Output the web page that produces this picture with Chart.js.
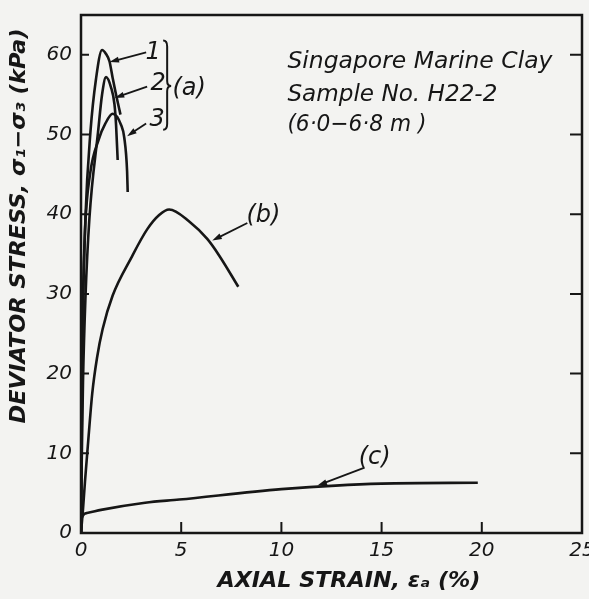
<!DOCTYPE html>
<html>
<head>
<meta charset="utf-8">
<title>Singapore Marine Clay - deviator stress vs axial strain</title>
<script src="https://cdn.jsdelivr.net/npm/chart.js@4.4.0/dist/chart.umd.min.js"></script>
<style>
  html, body { margin: 0; padding: 0; background: #f3f3f1; }
  #wrap { width: 589px; height: 599px; }
</style>
</head>
<body>
<div id="wrap"><canvas id="myChart" width="589" height="599"></canvas></div>
<script>
// values: axial strain (%) / deviator stress (kPa)
const strainA1 = [0, 0.02, 0.05, 0.1, 0.22, 0.47, 0.75, 1.05, 1.25, 1.42, 1.58, 1.75, 1.97];
const stressA1 = [0, 8, 18, 28, 39.5, 50.3, 57, 60.6, 60.1, 59.2, 57.1, 55, 52.5];

const strainA2 = [0, 0.03, 0.1, 0.22, 0.42, 0.85, 1.05, 1.25, 1.5, 1.67, 1.75, 1.83];
const stressA2 = [0, 8, 19, 29.4, 39.5, 50.3, 55, 57.2, 55.9, 53.8, 51.2, 46.8];

const strainA3 = [0, 0.02, 0.05, 0.1, 0.2, 0.45, 0.9, 1.2, 1.58, 2.0, 2.16, 2.3, 2.33];
const stressA3 = [0, 10, 20, 29.4, 38, 45, 49.5, 51.3, 52.6, 51.2, 49.6, 45.4, 42.8];

const strainB = [0, 0.1, 0.2, 0.34, 0.56, 0.8, 1.08, 1.58, 2.5, 3.3, 3.9, 4.4, 5.4, 6.3, 6.9, 7.85];
const stressB = [0, 3, 6.5, 10.9, 17.5, 22, 25.6, 29.8, 34.5, 38.1, 39.9, 40.6, 39.1, 36.9, 34.8, 30.9];

const strainC = [0, 0.04, 0.3, 1, 3.2, 4.9, 10, 15, 19.8];
const stressC = [0, 1.9, 2.5, 2.9, 3.8, 4.2, 5.5, 6.2, 6.3];

const xTicks = [0, 5, 10, 15, 20, 25];
const xTickLabels = ['0', '5', '10', '15', '20', '25'];
const yTicks = [0, 10, 20, 30, 40, 50, 60];
const yTickLabels = ['0', '10', '20', '30', '40', '50', '60'];

const titleLines = ['Singapore Marine Clay', 'Sample No. H22-2', '(6·0−6·8 m )'];
const xTitle = 'AXIAL STRAIN, εₐ (%)';
const yTitle = 'DEVIATOR STRESS, σ₁−σ₃ (kPa)';

const ink = '#161616';
const pts = (xs, ys) => xs.map((x, i) => ({x: x, y: ys[i]}));

// curve labels and their pointer arrows, in axis units
const notes = [
    {text: '1', x: 3.6, y: 60.3, from: [3.25, 60.3], to: [1.42, 59.1]},
    {text: '2', x: 3.85, y: 56.4, from: [3.3, 56.0], to: [1.68, 54.6]},
    {text: '3', x: 3.8, y: 51.9, from: [3.25, 51.4], to: [2.3, 49.8]},
    {text: '(a)', x: 5.4, y: 55.7},
    {text: '(b)', x: 9.1, y: 39.8, from: [8.3, 38.9], to: [6.55, 36.7]},
    {text: '(c)', x: 14.65, y: 9.4, from: [14.15, 8.2], to: [11.8, 5.95]}
];

const fitText = (ctx, text, cx, cy, w, font, angle, align) => {
    ctx.save();
    ctx.font = font;
    ctx.translate(cx, cy);
    ctx.rotate(angle || 0);
    const m = ctx.measureText(text).width;
    ctx.scale(w / m, 1);
    ctx.textAlign = align || 'center';
    ctx.textBaseline = align ? 'alphabetic' : 'middle';
    ctx.fillText(text, 0, 0);
    ctx.restore();
};

const arrow = (ctx, x1, y1, x2, y2) => {
    const ang = Math.atan2(y2 - y1, x2 - x1);
    ctx.beginPath();
    ctx.moveTo(x1, y1);
    ctx.lineTo(x2 - 6 * Math.cos(ang), y2 - 6 * Math.sin(ang));
    ctx.stroke();
    ctx.beginPath();
    ctx.moveTo(x2, y2);
    ctx.lineTo(x2 - 10 * Math.cos(ang - 0.3), y2 - 10 * Math.sin(ang - 0.3));
    ctx.lineTo(x2 - 10 * Math.cos(ang + 0.3), y2 - 10 * Math.sin(ang + 0.3));
    ctx.closePath();
    ctx.fill();
};

const paperPlugin = {
    id: 'paper',
    beforeDraw(chart) {
        const {ctx, width, height} = chart;
        ctx.save();
        ctx.fillStyle = '#f3f3f1';
        ctx.fillRect(0, 0, width, height);
        ctx.restore();
    },
    afterDraw(chart) {
        const {ctx, chartArea: a, scales: {x, y}} = chart;
        ctx.save();
        ctx.strokeStyle = ink;
        ctx.fillStyle = ink;
        ctx.lineWidth = 2.5;
        ctx.strokeRect(a.left, a.top, a.right - a.left, a.bottom - a.top);

        // tick marks point into the plot
        ctx.lineWidth = 2;
        ctx.beginPath();
        xTicks.slice(1, -1).forEach(v => {
            const px = x.getPixelForValue(v);
            ctx.moveTo(px, a.bottom);
            ctx.lineTo(px, a.bottom - 11);
        });
        yTicks.slice(1).forEach(v => {
            const py = y.getPixelForValue(v);
            ctx.moveTo(a.left, py);
            ctx.lineTo(a.left + 8, py);
            ctx.moveTo(a.right, py);
            ctx.lineTo(a.right - 12, py);
        });
        ctx.stroke();

        // axis titles
        fitText(ctx, yTitle, 20, 226, 395, 'italic bold 21px "DejaVu Sans"', -Math.PI / 2);
        fitText(ctx, xTitle, 349, 582, 263, 'italic bold 21px "DejaVu Sans"');

        // sample description
        const tx = x.getPixelForValue(10.3);
        const tw = [265, 210, 139];
        [58.3, 54.2, 50.5].forEach((v, i) => {
            fitText(ctx, titleLines[i], tx, y.getPixelForValue(v), tw[i], 'italic 23px "DejaVu Sans"', 0, 'left');
        });

        // curve labels, arrows and the brace for group (a)
        ctx.lineWidth = 1.8;
        ctx.font = 'italic 24px "DejaVu Sans"';
        ctx.textAlign = 'center';
        ctx.textBaseline = 'middle';
        notes.forEach(n => {
            ctx.fillText(n.text, x.getPixelForValue(n.x), y.getPixelForValue(n.y));
            if (n.from) {
                arrow(ctx, x.getPixelForValue(n.from[0]), y.getPixelForValue(n.from[1]),
                    x.getPixelForValue(n.to[0]), y.getPixelForValue(n.to[1]));
            }
        });
        const bx = x.getPixelForValue(4.1);
        const bt = y.getPixelForValue(61.8);
        const bm = y.getPixelForValue(56.1);
        const bb = y.getPixelForValue(50.6);
        ctx.lineWidth = 2;
        ctx.beginPath();
        ctx.moveTo(bx, bt);
        ctx.quadraticCurveTo(bx + 4, bt, bx + 4, bt + 6);
        ctx.lineTo(bx + 4, bm - 5);
        ctx.quadraticCurveTo(bx + 4, bm, bx + 8, bm);
        ctx.quadraticCurveTo(bx + 4, bm, bx + 4, bm + 5);
        ctx.lineTo(bx + 4, bb - 6);
        ctx.quadraticCurveTo(bx + 4, bb, bx, bb);
        ctx.stroke();
        ctx.restore();
    }
};

const curve = (label, data) => ({
    label: label,
    data: data,
    showLine: true,
    borderColor: ink,
    borderWidth: 2.6,
    pointRadius: 0,
    cubicInterpolationMode: 'monotone',
    fill: false
});

const ctx = document.getElementById('myChart').getContext('2d');
const myChart = new Chart(ctx, {
    type: 'scatter',
    data: {
        datasets: [
            curve('1', pts(strainA1, stressA1)),
            curve('2', pts(strainA2, stressA2)),
            curve('3', pts(strainA3, stressA3)),
            curve('(b)', pts(strainB, stressB)),
            curve('(c)', pts(strainC, stressC))
        ]
    },
    plugins: [paperPlugin],
    options: {
        responsive: false,
        animation: false,
        devicePixelRatio: 1,
        layout: {
            padding: {top: 15, right: 7, left: 0, bottom: 0}
        },
        plugins: {
            legend: {display: false},
            tooltip: {enabled: false},
            title: {display: false}
        },
        scales: {
            x: {
                type: 'linear',
                min: 0,
                max: 25,
                grid: {display: false, drawTicks: false, tickLength: 0},
                border: {display: false},
                afterBuildTicks: (axis) => { axis.ticks = xTicks.map(v => ({value: v})); },
                afterFit: (axis) => { axis.height = 66; axis.paddingLeft = 0; axis.paddingRight = 0; },
                ticks: {
                    color: ink,
                    padding: 6,
                    maxRotation: 0,
                    font: {family: 'DejaVu Sans', style: 'italic', size: 20},
                    callback: (v) => xTickLabels[xTicks.indexOf(v)]
                }
            },
            y: {
                type: 'linear',
                min: 0,
                max: 65,
                grid: {display: false, drawTicks: false, tickLength: 0},
                border: {display: false},
                afterBuildTicks: (axis) => { axis.ticks = yTicks.map(v => ({value: v})); },
                afterFit: (axis) => { axis.width = 81; axis.paddingTop = 0; axis.paddingBottom = 0; },
                ticks: {
                    color: ink,
                    padding: 9,
                    font: {family: 'DejaVu Sans', style: 'italic', size: 20},
                    callback: (v) => yTickLabels[yTicks.indexOf(v)]
                }
            }
        }
    }
});
</script>
</body>
</html>
